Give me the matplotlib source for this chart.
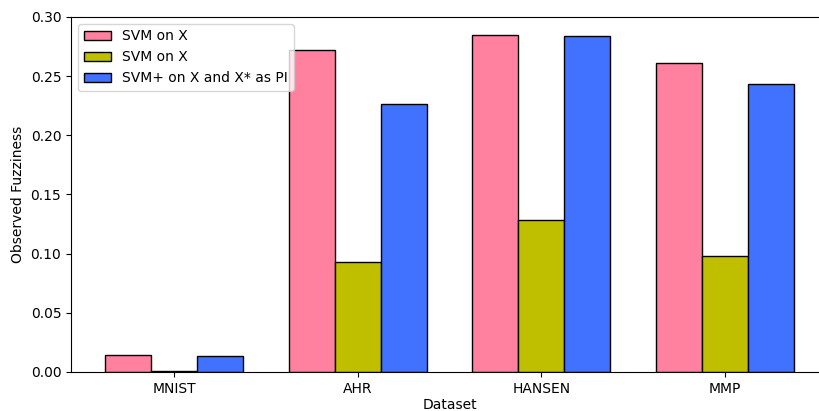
import numpy as np
import matplotlib.pyplot as plt

datasets = ["MNIST", "AHR", "HANSEN", "MMP"]
svm_x = [0.0145, 0.272, 0.285, 0.261]
svm_x2 = [0.001, 0.093, 0.128, 0.098]
svm_plus = [0.0135, 0.226, 0.284, 0.243]
labels = ["SVM on X", "SVM on X", "SVM+ on X and X* as PI"]
colors = ["#ff819f", "#bfbf00", "#4071ff"]

fig, ax = plt.subplots(figsize=(8.19, 4.11), dpi=100)
x = np.arange(len(datasets))
width = 0.25
for i, (vals, lab, col) in enumerate(zip([svm_x, svm_x2, svm_plus], labels, colors)):
    ax.bar(x + (i - 1) * width, vals, width, label=lab, color=col, edgecolor="black")

ax.set_xticks(x)
ax.set_xticklabels(datasets)
ax.set_xlabel("Dataset", labelpad=2)
ax.set_ylabel("Observed Fuzziness")
ax.set_ylim(0, 0.30)
ax.legend(loc="upper left")
# the reference is cropped: right spine falls past the image edge
fig.subplots_adjust(left=0.0867, right=1.011, top=0.959, bottom=0.095)
plt.savefig("out.png")
